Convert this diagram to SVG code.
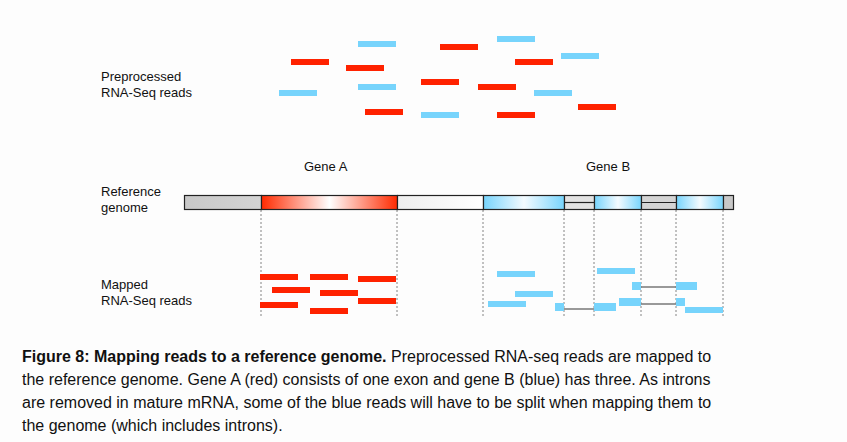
<svg xmlns="http://www.w3.org/2000/svg" width="847" height="442" viewBox="0 0 847 442">
<style>
text{font-family:"Liberation Sans",Arial,sans-serif;fill:#111}
.lb{font-size:13px}
.cap{font-size:16px}
.r{fill:#ff2200}
.b{fill:#77d4fc}
.d{stroke:#666;stroke-width:0.8;stroke-dasharray:2,2}
.j{stroke:#777;stroke-width:1.5}
.seg{stroke:#222;stroke-width:1.2}
</style>
<defs>
<linearGradient id="gr" x1="0" x2="1"><stop offset="0" stop-color="#ff2a00"/><stop offset="0.5" stop-color="#fff"/><stop offset="1" stop-color="#ff2a00"/></linearGradient>
<linearGradient id="gb" x1="0" x2="1"><stop offset="0" stop-color="#77d4fc"/><stop offset="0.5" stop-color="#f4fbff"/><stop offset="1" stop-color="#77d4fc"/></linearGradient>
<linearGradient id="gw" x1="0" x2="1"><stop offset="0" stop-color="#eee"/><stop offset="1" stop-color="#fff"/></linearGradient>
<linearGradient id="gg" x1="0" x2="1"><stop offset="0" stop-color="#c8c8c8"/><stop offset="1" stop-color="#d4d4d4"/></linearGradient>
</defs>
<rect width="847" height="442" fill="#fdfdfd"/>
<g id="labels">
<text class="lb" x="101" y="81">Preprocessed</text>
<text class="lb" x="101" y="97">RNA-Seq reads</text>
<text class="lb" x="304" y="171">Gene A</text>
<text class="lb" x="586" y="171">Gene B</text>
<text class="lb" x="101" y="196">Reference</text>
<text class="lb" x="101" y="212">genome</text>
<text class="lb" x="101" y="289">Mapped</text>
<text class="lb" x="101" y="305">RNA-Seq reads</text>
</g>
<g id="preprocessed-reads">
<rect class="b" x="358" y="41" width="38" height="6"/><rect class="b" x="497" y="36" width="38" height="6"/><rect class="b" x="561" y="53" width="38" height="6"/><rect class="b" x="358" y="84" width="38" height="6"/><rect class="b" x="279" y="90" width="38" height="6"/><rect class="b" x="534" y="90" width="38" height="6"/><rect class="b" x="421" y="112" width="38" height="6"/>
<rect class="r" x="440" y="44" width="38" height="6"/><rect class="r" x="291" y="59" width="38" height="6"/><rect class="r" x="515" y="59" width="38" height="6"/><rect class="r" x="346" y="65" width="38" height="6"/><rect class="r" x="421" y="79" width="38" height="6"/><rect class="r" x="478" y="84" width="38" height="6"/><rect class="r" x="578" y="104" width="38" height="6"/><rect class="r" x="365" y="109" width="38" height="6"/><rect class="r" x="497" y="112" width="38" height="6"/>
</g>
<g id="connectors">
<line class="d" x1="261" y1="210" x2="261" y2="318"/><line class="d" x1="397" y1="210" x2="397" y2="318"/><line class="d" x1="483" y1="210" x2="483" y2="318"/><line class="d" x1="564" y1="210" x2="564" y2="318"/><line class="d" x1="594" y1="210" x2="594" y2="318"/><line class="d" x1="641" y1="210" x2="641" y2="318"/><line class="d" x1="676" y1="210" x2="676" y2="318"/><line class="d" x1="723" y1="210" x2="723" y2="318"/>
<line class="j" x1="641" y1="287" x2="676" y2="287"/><line class="j" x1="641" y1="304" x2="676" y2="304"/><line class="j" x1="564" y1="309" x2="594" y2="309"/>
</g>
<g id="genome">
<rect class="seg" x="184.5" y="195.5" width="77" height="14" fill="url(#gg)"/>
<rect class="seg" x="261.5" y="195.5" width="136" height="14" fill="url(#gr)"/>
<rect class="seg" x="397.5" y="195.5" width="86" height="14" fill="url(#gw)"/>
<rect class="seg" x="483.5" y="195.5" width="81" height="14" fill="url(#gb)"/>
<rect class="seg" x="564.5" y="195.5" width="30" height="14" fill="#e2e2e2"/>
<line class="seg" x1="564" y1="202.5" x2="594" y2="202.5"/>
<rect class="seg" x="594.5" y="195.5" width="47" height="14" fill="url(#gb)"/>
<rect class="seg" x="641.5" y="195.5" width="35" height="14" fill="#d4d4d4"/>
<line class="seg" x1="641" y1="202.5" x2="676" y2="202.5"/>
<rect class="seg" x="676.5" y="195.5" width="47" height="14" fill="url(#gb)"/>
<rect class="seg" x="723.5" y="195.5" width="10" height="14" fill="#c8c8c8"/>
</g>
<g id="mapped-reads">
<rect class="r" x="260" y="274" width="38" height="6"/><rect class="r" x="310" y="274" width="38" height="6"/><rect class="r" x="358" y="276" width="38" height="6"/><rect class="r" x="272" y="287" width="38" height="6"/><rect class="r" x="320" y="290" width="38" height="6"/><rect class="r" x="358" y="298" width="38" height="6"/><rect class="r" x="260" y="302" width="38" height="6"/><rect class="r" x="310" y="308" width="38" height="6"/>
<rect class="b" x="497" y="271" width="38" height="6"/><rect class="b" x="597" y="268" width="38" height="6"/><rect class="b" x="632" y="282" width="9" height="8"/><rect class="b" x="676" y="282" width="21" height="8"/><rect class="b" x="515" y="291" width="38" height="6"/><rect class="b" x="488" y="301" width="38" height="6"/><rect class="b" x="555" y="303" width="9" height="8"/><rect class="b" x="594" y="303" width="22" height="8"/><rect class="b" x="619" y="298" width="22" height="8"/><rect class="b" x="676" y="298" width="9" height="8"/><rect class="b" x="685" y="307" width="38" height="6"/>
</g>
<g id="caption">
<text class="cap" x="22" y="362"><tspan font-weight="bold">Figure 8: Mapping reads to a reference genome.</tspan> Preprocessed RNA-seq reads are mapped to</text>
<text class="cap" x="22" y="385">the reference genome. Gene A (red) consists of one exon and gene B (blue) has three. As introns</text>
<text class="cap" x="22" y="408">are removed in mature mRNA, some of the blue reads will have to be split when mapping them to</text>
<text class="cap" x="22" y="431">the genome (which includes introns).</text>
</g>
</svg>
